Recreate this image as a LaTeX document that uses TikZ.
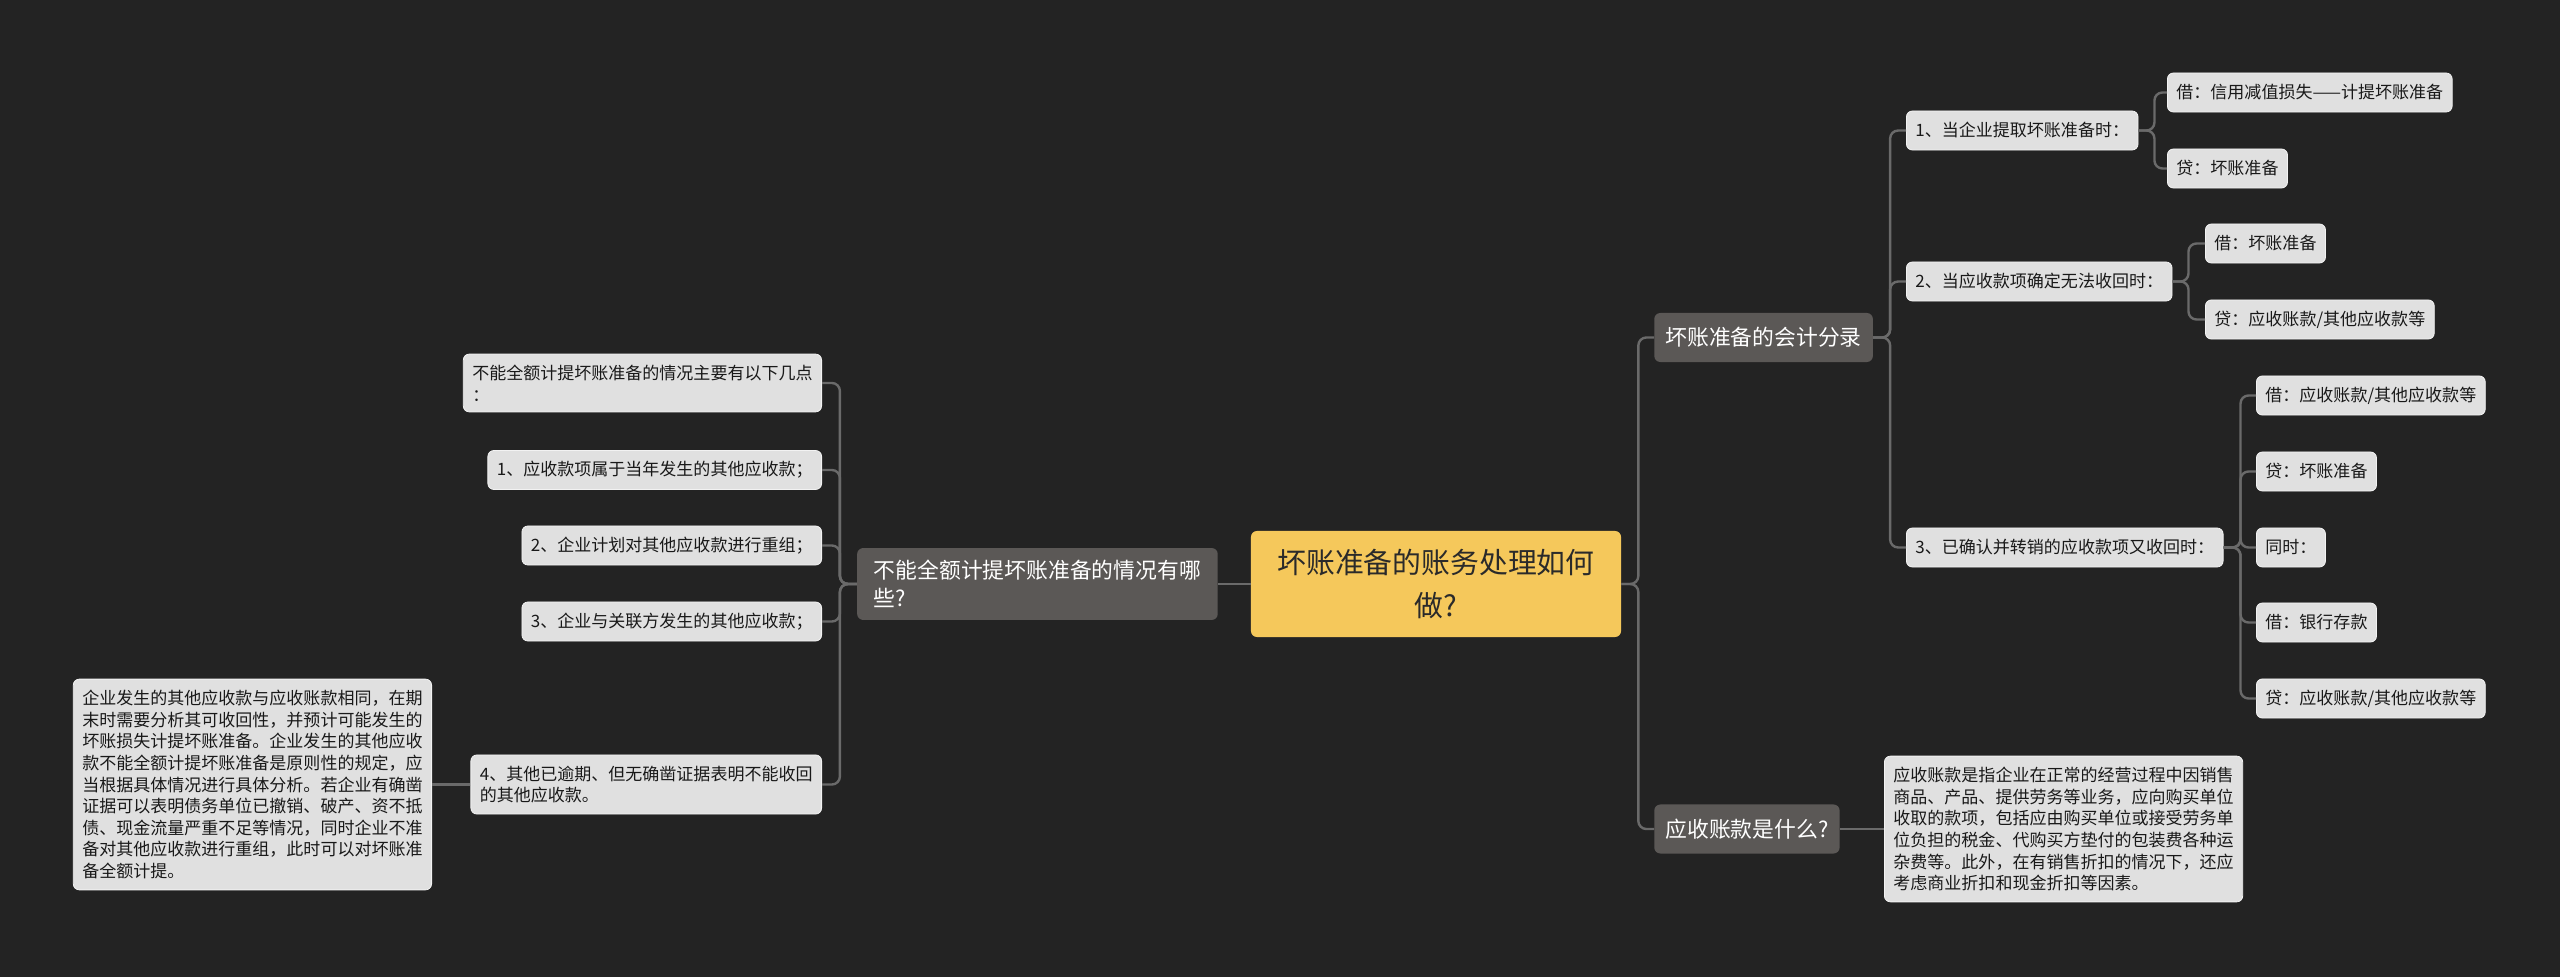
\documentclass[tikz,border=0pt]{standalone}
\usepackage{fontspec}
\setmainfont{Noto Sans CJK SC}
\usepackage{tikz}
\usetikzlibrary{positioning, calc}
\definecolor{bgDark}{HTML}{232323}
\definecolor{leafGrey}{HTML}{E0E0E0}
\definecolor{leafEdge}{HTML}{F2F2F2}
\definecolor{branchGrey}{HTML}{5B5856}
\definecolor{rootYellow}{HTML}{F5C85B}
\definecolor{rootText}{HTML}{2A2A2A}
\definecolor{linkGrey}{HTML}{6A6A6A}

\begin{document}
\begin{tikzpicture}[x=0.025cm, y=-0.025cm,
    rootbox/.style={fill=rootYellow, text=rootText, rounded corners=0.15cm, align=center,
        minimum width=9.25cm, minimum height=2.65cm, font=\fontsize{20.5}{30.5}\selectfont},
    branchbox/.style={fill=branchGrey, text=white, rounded corners=0.15cm, align=left,
        inner xsep=0.28cm, inner ysep=0.25cm, minimum height=1.225cm, font=\fontsize{15.5}{20}\selectfont},
    leafbox/.style={fill=leafGrey, draw=leafEdge, line width=0.02cm, text=black!90, rounded corners=0.15cm,
        align=left, inner xsep=0.225cm, inner ysep=0.27cm, minimum height=0.975cm, font=\fontsize{12.1}{15.4}\selectfont},
    link/.style={draw=linkGrey, line width=0.06cm, rounded corners=0.2cm}]

    \fill[bgDark] (0,0) rectangle (2560,977);
    \useasboundingbox (0,0) rectangle (2560,977);

    % root
    \node[rootbox] (root) at (1436,584) {坏账准备的账务处理如何\\做?};

    % right side
    \node[branchbox, anchor=west] (kfl) at (1654,337.5) {坏账准备的会计分录};
    \node[branchbox, anchor=west] (ysk) at (1654,829) {应收账款是什么?};
    \node[leafbox, anchor=west] (yskd) at (1884,829) {应收账款是指企业在正常的经营过程中因销售\\商品、产品、提供劳务等业务，应向购买单位\\收取的款项，包括应由购买单位或接受劳务单\\位负担的税金、代购买方垫付的包装费各种运\\杂费等。此外，在有销售折扣的情况下，还应\\考虑商业折扣和现金折扣等因素。};

    \node[leafbox, anchor=west] (e1) at (1906,130.5) {1、当企业提取坏账准备时：};
    \node[leafbox, anchor=west] (e1a) at (2167,92.5) {借：信用减值损失——计提坏账准备};
    \node[leafbox, anchor=west] (e1b) at (2167,168.5) {贷：坏账准备};

    \node[leafbox, anchor=west] (e2) at (1906,281.5) {2、当应收款项确定无法收回时：};
    \node[leafbox, anchor=west] (e2a) at (2205,243.5) {借：坏账准备};
    \node[leafbox, anchor=west] (e2b) at (2205,319.5) {贷：应收账款/其他应收款等};

    \node[leafbox, anchor=west] (e3) at (1906,547.5) {3、已确认并转销的应收款项又收回时：};
    \node[leafbox, anchor=west] (e3a) at (2256,395.5) {借：应收账款/其他应收款等};
    \node[leafbox, anchor=west] (e3b) at (2256,471.5) {贷：坏账准备};
    \node[leafbox, anchor=west] (e3c) at (2256,547.5) {同时：};
    \node[leafbox, anchor=west] (e3d) at (2256,622.5) {借：银行存款};
    \node[leafbox, anchor=west] (e3e) at (2256,698.5) {贷：应收账款/其他应收款等};

    % left side
    \node[branchbox, anchor=east, inner xsep=0.42cm, inner ysep=0.3cm] (bn) at (1218,584) {不能全额计提坏账准备的情况有哪\\些?};
    \node[leafbox, anchor=east] (bn0) at (822,383) {不能全额计提坏账准备的情况主要有以下几点\\：};
    \node[leafbox, anchor=east] (bn1) at (822,470) {1、应收款项属于当年发生的其他应收款；};
    \node[leafbox, anchor=east] (bn2) at (822,545.5) {2、企业计划对其他应收款进行重组；};
    \node[leafbox, anchor=east] (bn3) at (822,621.5) {3、企业与关联方发生的其他应收款；};
    \node[leafbox, anchor=east] (bn4) at (822,784.5) {4、其他已逾期、但无确凿证据表明不能收回\\的其他应收款。};
    \node[leafbox, anchor=east] (bn4d) at (432,784.5) {企业发生的其他应收款与应收账款相同，在期\\末时需要分析其可收回性，并预计可能发生的\\坏账损失计提坏账准备。企业发生的其他应收\\款不能全额计提坏账准备是原则性的规定，应\\当根据具体情况进行具体分析。若企业有确凿\\证据可以表明债务单位已撤销、破产、资不抵\\债、现金流量严重不足等情况，同时企业不准\\备对其他应收款进行重组，此时可以对坏账准\\备全额计提。};

    % connectors
    \begin{scope}[on background layer/.try]
    \foreach \c in {kfl, ysk}
        \draw[link] (root.east) -- ++(17,0) |- (\c.west);
    \foreach \c in {e1, e2, e3}
        \draw[link] (kfl.east) -- ++(17,0) |- (\c.west);
    \foreach \c in {e1a, e1b}
        \draw[link] (e1.east) -- ++(16,0) |- (\c.west);
    \foreach \c in {e2a, e2b}
        \draw[link] (e2.east) -- ++(16,0) |- (\c.west);
    \foreach \c in {e3a, e3b, e3c, e3d, e3e}
        \draw[link] (e3.east) -- ++(17,0) |- (\c.west);
    \draw[link] (ysk.east) -- (yskd.west);
    \draw[link] (root.west) -- (bn.east);
    \foreach \c in {bn0, bn1, bn2, bn3, bn4}
        \draw[link] (bn.west) -- ++(-17,0) |- (\c.east);
    \draw[link] (bn4.west) -- (bn4d.east);
    \end{scope}
\end{tikzpicture}
\end{document}
